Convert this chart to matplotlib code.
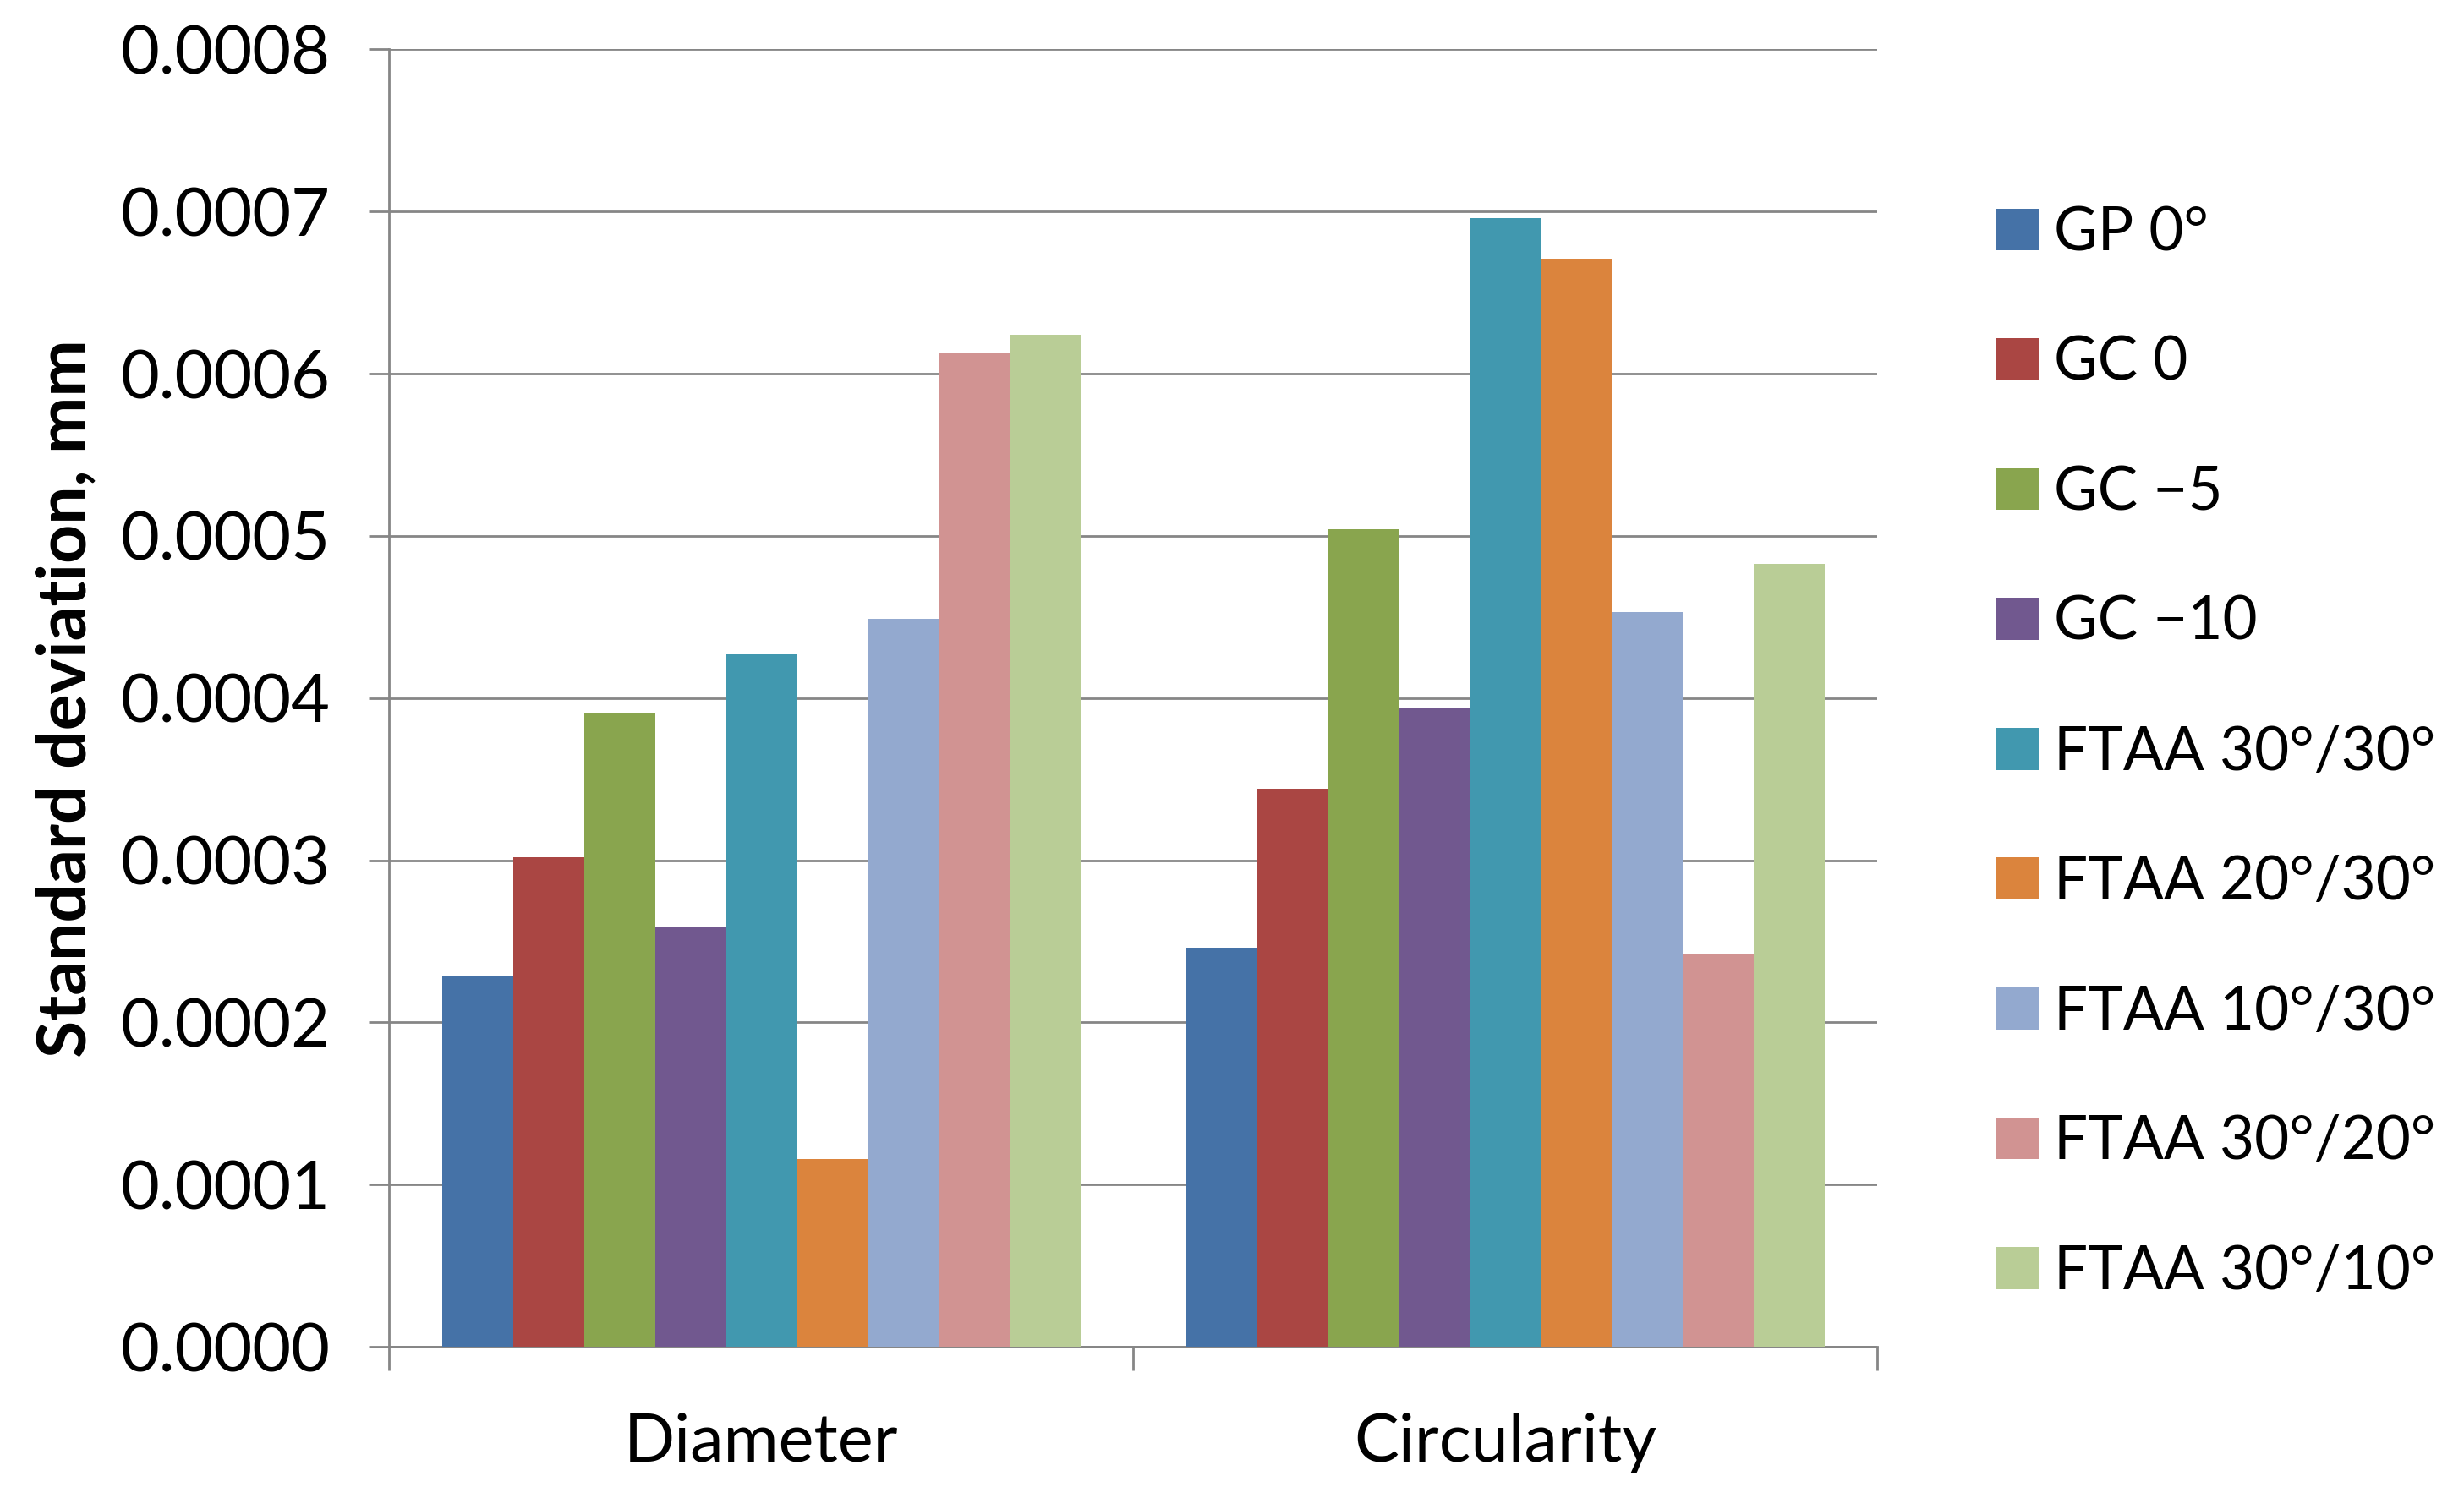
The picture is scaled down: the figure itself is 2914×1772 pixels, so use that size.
import numpy as np
import matplotlib.pyplot as plt

plt.rcParams['font.family'] = ['Lato', 'DejaVu Sans']

categories = ["Diameter", "Circularity"]
series = ["GP 0°", "GC 0", "GC \u22125", "GC \u221210", "FTAA 30°/30°",
          "FTAA 20°/30°", "FTAA 10°/30°", "FTAA 30°/20°", "FTAA 30°/10°"]
values = [
    [0.000229, 0.000246],
    [0.000302, 0.000344],
    [0.000391, 0.000504],
    [0.000259, 0.000394],
    [0.000427, 0.000696],
    [0.000116, 0.000671],
    [0.000449, 0.000453],
    [0.000613, 0.000242],
    [0.000624, 0.000483],
]
colors = ["#4572A7", "#AA4643", "#89A54E", "#71588F", "#4198AF",
          "#DB843D", "#93A9CF", "#D19392", "#B9CD96"]
yticks = [0.0, 0.0001, 0.0002, 0.0003, 0.0004, 0.0005, 0.0006, 0.0007, 0.0008]

fig = plt.figure(figsize=(29.14, 17.72), dpi=100)
ax = fig.add_axes([0.158, 0.101, 0.604, 0.866])

n = len(series)
w = 1.0 / (n + 1.5)
x = np.arange(len(categories))
for i in range(n):
    ax.bar(x - n * w / 2 + (i + 0.5) * w, values[i], width=w, color=colors[i],
           label=series[i], zorder=3)

ax.set_xlim(-0.5, 1.5)
ax.set_ylim(0, 0.0008)
ax.set_yticks(yticks)
ax.set_yticklabels(["%.4f" % v for v in yticks], fontsize=57)
ax.set_xticks([-0.5, 0.5, 1.5])
ax.set_xticklabels([])
ax.set_xticks(x, minor=True)
ax.set_xticklabels(categories, minor=True, fontsize=57)
ax.tick_params(axis='x', which='minor', length=0, pad=56)
ax.tick_params(axis='x', which='major', length=20, width=2, color="#868686")
ax.tick_params(axis='y', length=17, width=2, color="#868686", pad=33)
ax.grid(axis='y', color="#868686", linewidth=2, zorder=0)
for s in ["top", "right"]:
    ax.spines[s].set_visible(False)
for s in ["left", "bottom"]:
    ax.spines[s].set_color("#868686")
    ax.spines[s].set_linewidth(2)

ax.set_ylabel("Standard deviation, mm", fontsize=58, fontweight='bold', labelpad=20)

ax.legend(loc='upper left', bbox_to_anchor=(1.064, 0.898), frameon=False,
          fontsize=51, handlelength=0.7, handleheight=0.7, handletextpad=0.25,
          labelspacing=1.25, borderaxespad=0)

fig.savefig("out.png", dpi=100)
